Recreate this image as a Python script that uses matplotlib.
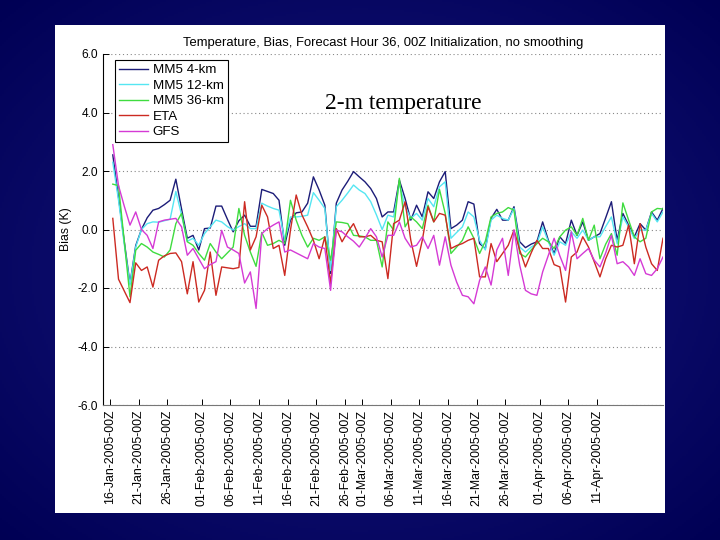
import numpy as np
import pandas as pd
import matplotlib
matplotlib.use("Agg")
import matplotlib.pyplot as plt
import matplotlib.dates as mdates
from matplotlib.patches import Rectangle
from matplotlib.ticker import FormatStrFormatter

plt.rcParams['font.family'] = ['Liberation Sans', 'DejaVu Sans']

# daily 36-h forecasts, valid 12Z, 16-Jan .. 22-Apr 2005
dates = pd.date_range('2005-01-16 12:00', periods=97, freq='D')

mm5_4km = [2.55, 1.1, -0.4, -1.85, -0.55, 0.0, 0.4, 0.66, 0.72, 0.85,
           1.0, 1.72, 0.7, -0.3, -0.2, -0.7, 0.03, 0.05, 0.8, 0.8,
           0.35, -0.08, 0.3, 0.49, 0.11, 0.11, 1.37, 1.3, 1.23, 1.0,
           -0.54, 0.32, 0.57, 0.6, 0.9, 1.8, 1.35, 0.83, -1.5, 0.9,
           1.35, 1.65, 1.98, 1.8, 1.63, 1.4, 1.06, 0.43, 0.6, 0.6,
           1.69, 1.06, 0.32, 0.83, 0.43, 1.29, 1.06, 1.63, 1.98, 0.03,
           0.15, 0.32, 0.95, 0.87, -0.48, -0.65, 0.38, 0.69, 0.32, 0.32,
           0.78, -0.42, -0.62, -0.5, -0.42, 0.26, -0.37, -0.82, -0.25, -0.48,
           0.32, -0.2, 0.26, -0.37, -0.25, -0.14, 0.4, 0.95, -0.37, 0.55,
           0.15, -0.25, 0.2, -0.02, 0.6, 0.32, 0.72]

mm5_12km = [2.3, 1.0, -0.5, -1.9, -0.6, 0.0, 0.2, 0.26, 0.25, 0.3,
            0.35, 1.3, 0.5, -0.4, -0.3, -0.54, -0.14, 0.09, 0.32, 0.26,
            0.1, -0.02, 0.1, 0.2, 0.03, 0.03, 0.9, 0.8, 0.72, 0.66,
            -0.37, 0.43, 0.43, 0.45, 0.49, 1.26, 1.0, 0.72, -1.4, 0.78,
            1.0, 1.25, 1.52, 1.35, 1.23, 0.95, 0.5, 0.0, 0.49, 0.43,
            1.58, 0.78, 0.38, 0.55, 0.32, 1.06, 0.78, 1.46, 1.63, -0.3,
            -0.1, 0.09, 0.6, 0.43, -0.37, -0.7, 0.32, 0.49, 0.38, 0.32,
            0.72, -0.6, -0.77, -0.6, -0.48, 0.09, -0.42, -0.88, -0.42, -0.54,
            -0.08, -0.3, -0.02, -0.37, -0.25, -0.25, 0.1, 0.43, -0.48, 0.43,
            0.09, -0.31, -0.02, -0.02, 0.55, 0.26, 0.6]

mm5_36km = [1.55, 1.5, -0.4, -2.3, -0.71, -0.48, -0.6, -0.77, -0.85, -0.94,
            -0.7, 0.2, 0.55, -0.42, -0.54, -0.82, -1.05, -0.48, -0.77, -1.0,
            -0.8, -0.6, 0.72, -0.2, -0.77, -1.26, -0.1, -0.54, -0.48, -0.37,
            -0.48, 1.0, 0.32, -0.2, -0.6, -0.3, -0.37, -0.25, -1.05, 0.26,
            0.24, 0.2, -0.2, -0.22, -0.25, -0.37, -0.37, -1.28, 0.26, -0.02,
            1.75, 0.09, 0.43, 0.26, 0.03, 0.83, 0.26, 1.37, 0.55, -0.82,
            -0.6, -0.37, 0.09, -0.3, -0.82, -0.4, 0.43, 0.55, 0.6, 0.75,
            0.66, -0.82, -0.94, -0.7, -0.48, -0.3, -0.42, -0.65, -0.25, -0.02,
            0.09, -0.2, 0.38, -0.37, 0.15, -1.0, -0.5, -0.14, -0.88, 0.91,
            0.32, -0.25, -0.42, -0.3, 0.6, 0.72, 0.7]

eta = [0.38, -1.7, -2.1, -2.5, -1.14, -1.4, -1.28, -1.97, -1.05, -0.9,
       -0.82, -0.8, -1.1, -2.2, -1.1, -2.48, -2.08, -0.77, -2.25, -1.28,
       -1.31, -1.34, -1.3, 0.95, -0.7, -0.25, 0.83, 0.43, -0.65, -0.54,
       -1.57, -0.02, 1.18, 0.5, 0.09, -0.37, -1.0, -0.25, -1.85, 0.03,
       -0.42, -0.08, 0.2, -0.25, -0.25, -0.2, -0.37, -0.42, -1.68, 0.2,
       0.32, 0.95, -0.37, -1.26, -0.37, 0.78, 0.26, 0.55, 0.49, -0.65,
       -0.55, -0.48, -0.37, -0.3, -1.62, -1.62, -0.48, -1.1, -0.82, -0.54,
       -0.02, -0.7, -1.28, -0.8, -0.37, -0.65, -0.65, -1.2, -1.28, -2.48,
       -0.94, -0.77, -0.25, -0.6, -1.1, -1.62, -1.0, -0.54, -0.6, -0.54,
       0.15, -1.17, 0.2, -0.6, -1.17, -1.4, -0.3]

gfs = [2.9, 1.5, 0.8, 0.15, 0.6, 0.0, -0.2, -0.65, 0.26, 0.32,
       0.35, 0.38, 0.09, -0.88, -0.65, -1.0, -1.34, -1.2, -1.1, -0.03,
       -0.6, -0.7, -0.82, -1.83, -1.45, -2.7, -0.14, 0.03, 0.15, 0.26,
       -0.77, -0.7, -0.8, -0.9, -1.0, -0.48, -0.6, -0.65, -2.08, -0.02,
       -0.08, -0.25, -0.4, -0.6, -0.3, 0.03, -0.25, -0.94, -0.2, -0.2,
       0.26, -0.3, -0.6, -0.54, -0.25, -0.65, -0.2, -1.22, -0.25, -1.22,
       -1.8, -2.25, -2.3, -2.54, -1.74, -1.28, -1.9, -0.7, -0.3, -1.57,
       -0.02, -1.22, -2.08, -2.2, -2.25, -1.45, -0.88, -0.3, -0.9, -1.4,
       -0.08, -1.0, -0.82, -0.65, -1.05, -1.28, -0.8, -0.2, -1.17, -1.1,
       -1.28, -1.57, -1.0, -1.51, -1.57, -1.34, -0.94]

series = [("MM5 4-km", mm5_4km, '#1c1c78'),
          ("MM5 12-km", mm5_12km, '#55e6f2'),
          ("MM5 36-km", mm5_36km, '#3fdc3f'),
          ("ETA", eta, '#cc2a22'),
          ("GFS", gfs, '#d53ad5')]

tick_dates = pd.to_datetime(['2005-01-16', '2005-01-21', '2005-01-26', '2005-02-01',
                             '2005-02-06', '2005-02-11', '2005-02-16', '2005-02-21',
                             '2005-02-26', '2005-03-01', '2005-03-06', '2005-03-11',
                             '2005-03-16', '2005-03-21', '2005-03-26', '2005-04-01',
                             '2005-04-06', '2005-04-11'])

fig = plt.figure(figsize=(7.2, 5.4), dpi=100)

# navy slide background with a soft radial glow, white panel on top
bg = fig.add_axes([0, 0, 1, 1])
bg.axis('off')
yy, xx = np.mgrid[-1:1:270j, -1:1:360j]
r = np.clip(np.sqrt(xx**2 + yy**2) / np.sqrt(2), 0, 1)[..., None]
inner = np.array([0.10, 0.10, 0.52])
outer = np.array([0.0, 0.0, 0.33])
bg.imshow(inner * (1 - r) + outer * r, aspect='auto', extent=[0, 1, 0, 1])
bg.add_patch(Rectangle((55 / 720, 27 / 540), 610 / 720, 488 / 540,
                       facecolor='white', edgecolor='none'))
bg.set_xlim(0, 1)
bg.set_ylim(0, 1)

ax = fig.add_axes([103 / 720, 135 / 540, 560 / 720, 351 / 540])
ax.set_facecolor('white')
for name, vals, col in series:
    ax.plot(dates, vals, color=col, linewidth=1.0, label=name)

ax.set_ylim(-6, 6)
ax.set_yticks(np.arange(-6, 6.1, 2))
ax.yaxis.set_major_formatter(FormatStrFormatter('%.1f'))
ax.set_xlim(pd.Timestamp('2005-01-14 19:00'), pd.Timestamp('2005-04-22 12:00'))
ax.set_xticks(tick_dates)
ax.xaxis.set_major_formatter(mdates.DateFormatter('%d-%b-%Y-00Z'))
plt.setp(ax.get_xticklabels(), rotation=90)

ax.yaxis.grid(True, linestyle=(0, (1, 2.5)), color='#888888', linewidth=0.8)
ax.spines['top'].set_visible(False)
ax.spines['right'].set_visible(False)
ax.spines['left'].set_linewidth(0.8)
ax.spines['bottom'].set_linewidth(0.8)
ax.spines['bottom'].set_color('#777777')
ax.tick_params(direction='in', length=4, labelsize=8.6, width=0.7)
ax.tick_params(axis='x', labelsize=8.9)

ax.set_title("Temperature, Bias, Forecast Hour 36, 00Z Initialization, no smoothing",
             fontsize=9.4, pad=6)
ax.set_ylabel("Bias (K)", fontsize=8.8, labelpad=4)

leg = ax.legend(loc='upper left', bbox_to_anchor=(0.021, 0.983), borderaxespad=0,
                fontsize=9.6, fancybox=False, edgecolor='black', framealpha=1,
                handlelength=2.2, labelspacing=0.24, borderpad=0.3, handletextpad=0.35)
leg.get_frame().set_linewidth(0.8)

ax.text(0.536, 0.86, "2-m temperature", transform=ax.transAxes, ha='center', va='center',
        fontsize=17, family=['Liberation Serif', 'DejaVu Serif'])

fig.savefig("out.png", dpi=100)
